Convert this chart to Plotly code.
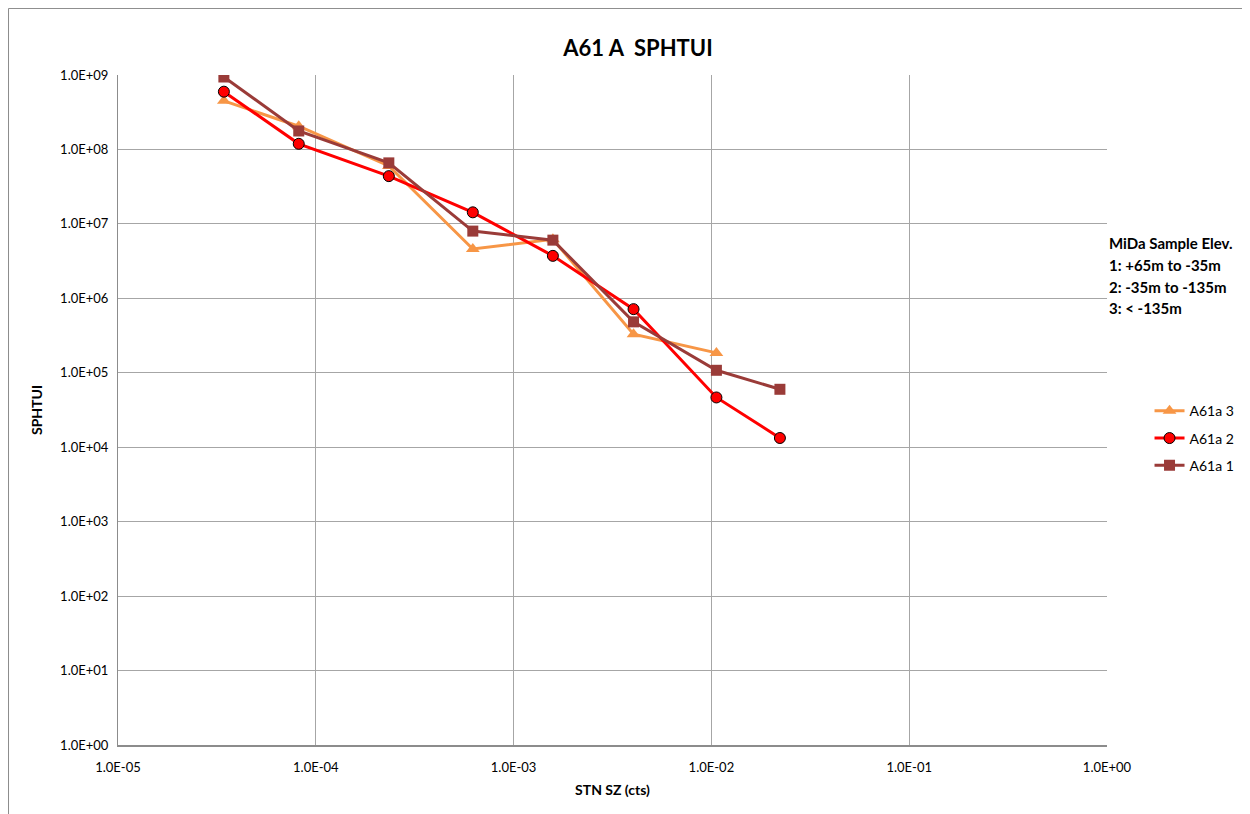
import plotly.graph_objects as go

# Data
x_a61a1 = [3.43e-5, 8.2e-5, 2.34e-4, 6.22e-4, 1.58e-3, 4.04e-3, 1.06e-2, 2.22e-2]
y_a61a1 = [9.4e8, 1.77e8, 6.6e7, 8.0e6, 6.05e6, 4.83e5, 1.08e5, 6.0e4]

x_a61a2 = [3.43e-5, 8.2e-5, 2.34e-4, 6.22e-4, 1.58e-3, 4.04e-3, 1.06e-2, 2.22e-2]
y_a61a2 = [5.97e8, 1.19e8, 4.38e7, 1.43e7, 3.72e6, 7.16e5, 4.66e4, 1.33e4]

x_a61a3 = [3.43e-5, 8.2e-5, 2.34e-4, 6.22e-4, 1.58e-3, 4.04e-3, 1.06e-2]
y_a61a3 = [4.5e8, 2.05e8, 6.0e7, 4.6e6, 6.2e6, 3.3e5, 1.85e5]

x_tickvals = [1e-5, 1e-4, 1e-3, 1e-2, 1e-1, 1e0]
x_ticktext = ["1.0E-05", "1.0E-04", "1.0E-03", "1.0E-02", "1.0E-01", "1.0E+00"]
y_tickvals = [1e0, 1e1, 1e2, 1e3, 1e4, 1e5, 1e6, 1e7, 1e8, 1e9]
y_ticktext = ["1.0E+00", "1.0E+01", "1.0E+02", "1.0E+03", "1.0E+04",
              "1.0E+05", "1.0E+06", "1.0E+07", "1.0E+08", "1.0E+09"]

note_lines = ["MiDa Sample Elev.", "1: +65m to -35m", "2: -35m to -135m", "3: < -135m"]

FONT = "Lato, 'Open Sans', sans-serif"

fig = go.Figure()
fig.add_trace(go.Scatter(
    x=x_a61a3, y=y_a61a3, name="A61a 3", mode="lines+markers", legendgroup="g3",
    line=dict(color="#F79646", width=3),
    marker=dict(symbol="triangle-up", size=12, color="#F79646"),
))
fig.add_trace(go.Scatter(
    x=x_a61a2, y=y_a61a2, name="A61a 2", mode="lines+markers", legendgroup="g2",
    line=dict(color="#FF0000", width=3),
    marker=dict(symbol="circle", size=11, color="#FF0000", line=dict(color="#000000", width=1)),
))
fig.add_trace(go.Scatter(
    x=x_a61a1, y=y_a61a1, name="A61a 1", mode="lines+markers", legendgroup="g1",
    line=dict(color="#9A3B38", width=3),
    marker=dict(symbol="square", size=11, color="#9A3B38"),
))

grid = "#a6a6a6"
fig.update_xaxes(
    type="log", range=[-5, 0], tickvals=x_tickvals, ticktext=x_ticktext,
    showgrid=True, gridcolor=grid, gridwidth=1,
    showline=True, linecolor="#8c8c8c", linewidth=2,
    ticks="", ticklabelstandoff=9, tickfont=dict(size=13, family=FONT, color="#000"),
    title=dict(text="<b>STN SZ (cts)</b>", font=dict(size=14, family=FONT, color="#000"), standoff=12),
    zeroline=False,
)
fig.update_yaxes(
    type="log", range=[0, 9], tickvals=y_tickvals, ticktext=y_ticktext,
    showgrid=True, gridcolor=grid, gridwidth=1,
    showline=True, linecolor="#8c8c8c", linewidth=1,
    ticks="", ticklabelstandoff=6, tickfont=dict(size=13, family=FONT, color="#000"),
    title=dict(text="<b>SPHTUI</b>", font=dict(size=14, family=FONT, color="#000"), standoff=14),
    zeroline=False,
)

note_y = [0.749, 0.716, 0.684, 0.652]
for line_text, yy in zip(note_lines, note_y):
    fig.add_annotation(
        xref="paper", yref="paper", x=0.9995, y=yy, xanchor="left", yanchor="middle",
        text="<b>%s</b>" % line_text, align="left", showarrow=False,
        font=dict(size=15, family=FONT, color="#000"),
    )

# outer chart border
fig.add_shape(type="rect", xref="paper", yref="paper",
              x0=-0.1107, x1=1.3, y0=-0.3, y1=1.0993,
              line=dict(color="#8c8c8c", width=1), layer="below")

fig.update_layout(
    width=1250, height=814,
    margin=dict(l=110, r=151, t=67, b=77),
    paper_bgcolor="white", plot_bgcolor="white",
    title=dict(text="<b>A61 A  SPHTUI</b>", x=0.504, xanchor="center", y=0.951, yanchor="middle",
               font=dict(size=22, family=FONT, color="#000")),
    legend=dict(x=1.043, y=0.522, xanchor="left", yanchor="top", tracegroupgap=6,
                font=dict(size=14, family=FONT, color="#000"), bgcolor="rgba(0,0,0,0)"),
    showlegend=True,
)

fig.write_html("out.html")
